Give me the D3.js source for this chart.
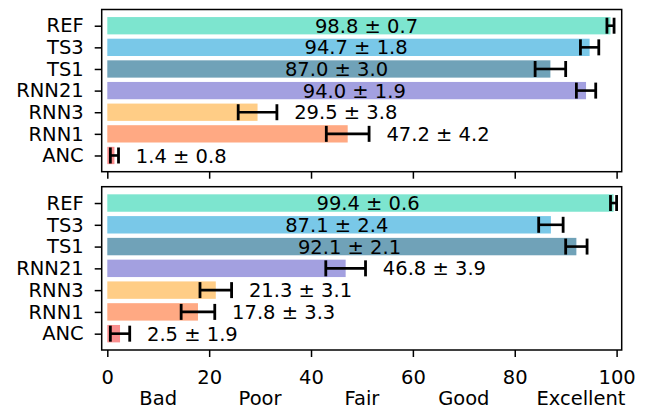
<!DOCTYPE html>
<html><head><meta charset="utf-8">
<script src="https://cdn.jsdelivr.net/npm/d3@7"></script>
<style>body{margin:0;background:#fff}svg{display:block}text{font-family:"DejaVu Sans",sans-serif}</style>
</head><body><svg id="c" width="649" height="410"></svg>
<script>
const categories = ["ANC","RNN1","RNN3","RNN21","TS1","TS3","REF"];
const colors = ["#f98d8d","#ffa983","#ffcd86","#a3a0e0","#70a2b8","#79c8e8","#7de5cf"];
const topValues = [1.4,47.2,29.5,94.0,87.0,94.7,98.8];
const topErrors = [0.8,4.2,3.8,1.9,3.0,1.8,0.7];
const bottomValues = [2.5,17.8,21.3,46.8,92.1,87.1,99.4];
const bottomErrors = [1.9,3.3,3.1,3.9,2.1,2.4,0.6];
const xTicks = [0,20,40,60,80,100];
const ratingLabels = ["Bad","Poor","Fair","Good","Excellent"];
const ratingPos = [10,30,50,70,93];

const svg = d3.select("#c");
const L = 101.7, R = 621.7;
const x = d3.scaleLinear().domain([-1.1,101]).range([L,R]);
const FS = 19.5;

function panel(top, bottom, vals, errs, showLabels){
  const y = d3.scaleLinear().domain([-0.75,6.75]).range([bottom, top]);
  const g = svg.append("g");
  const bw = Math.abs(y(0.4)-y(-0.4));
  g.selectAll("rect.bar").data(vals).join("rect")
    .attr("x", x(0)).attr("y", (d,i)=>y(i)-bw/2)
    .attr("width", d=>x(d)-x(0)).attr("height", bw)
    .attr("fill", (d,i)=>colors[i]);
  const cap = 8;
  vals.forEach((v,i)=>{
    const e = errs[i], cy = y(i);
    g.append("line").attr("x1",x(v-e)).attr("x2",x(v+e)).attr("y1",cy).attr("y2",cy)
      .attr("stroke","#000").attr("stroke-width",2.6);
    [v-e, v+e].forEach(xx=>{
      g.append("line").attr("x1",x(xx)).attr("x2",x(xx)).attr("y1",cy-cap).attr("y2",cy+cap)
        .attr("stroke","#000").attr("stroke-width",2.8);
    });
    const inside = v > 50;
    g.append("text")
      .attr("x", inside ? x(v/2 + 1.5) : x(v+e+3.4))
      .attr("y", cy).attr("dy","0.36em")
      .attr("text-anchor", inside ? "middle" : "start")
      .attr("font-size", FS).attr("fill","#000")
      .text(v.toFixed(1)+" ± "+e.toFixed(1));
  });
  const ya = d3.axisLeft(y).tickValues(d3.range(7)).tickFormat(i=>categories[i]).tickSize(7).tickPadding(11);
  const yg = g.append("g").attr("transform",`translate(${L},0)`).call(ya);
  yg.select(".domain").remove();
  yg.selectAll("line").attr("stroke","#000").attr("stroke-width",1.5);
  yg.selectAll("text").attr("font-size",FS).attr("fill","#000").attr("font-family","DejaVu Sans");
  const xa = d3.axisBottom(x).tickValues(xTicks).tickSize(7).tickPadding(13).tickFormat(showLabels? d3.format("d") : ()=>"");
  const xg = g.append("g").attr("transform",`translate(0,${bottom})`).call(xa);
  xg.select(".domain").remove();
  xg.selectAll("line").attr("stroke","#000").attr("stroke-width",1.5);
  xg.selectAll("text").attr("font-size",FS).attr("fill","#000").attr("font-family","DejaVu Sans");
  g.append("rect").attr("x",L).attr("y",top).attr("width",R-L).attr("height",bottom-top)
    .attr("fill","none").attr("stroke","#000").attr("stroke-width",1.5);
  return y;
}
panel(9.5, 171.7, topValues, topErrors, false);
panel(186.7, 350, bottomValues, bottomErrors, true);
svg.selectAll("text.rating").data(ratingLabels).join("text").attr("class","rating")
  .attr("x",(d,i)=>x(ratingPos[i])).attr("y",398).attr("dy","0.36em")
  .attr("text-anchor","middle").attr("font-size",FS).attr("fill","#000").text(d=>d);
</script></body></html>
